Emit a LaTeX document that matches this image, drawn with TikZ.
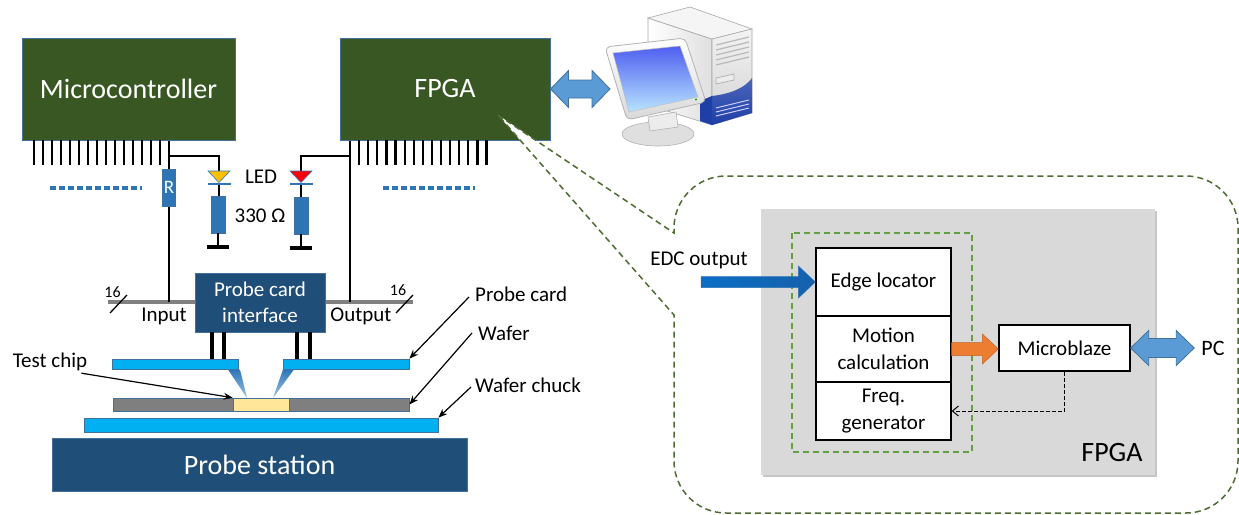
\documentclass[tikz,border=0pt]{standalone}
\usepackage{fontspec}
\setmainfont{Carlito}
\usetikzlibrary{calc,arrows.meta}

\definecolor{chipgreen}{HTML}{385723}
\definecolor{edgeblue}{HTML}{41719C}
\definecolor{resblue}{HTML}{2E75B6}
\definecolor{ledyellow}{HTML}{FFC000}
\definecolor{ledred}{HTML}{FF0000}
\definecolor{navy}{HTML}{1F4E79}
\definecolor{cyanbar}{HTML}{00B0F0}
\definecolor{wafergray}{HTML}{7F7F7F}
\definecolor{chipyellow}{HTML}{FFE699}
\definecolor{arrowblue}{HTML}{5B9BD5}
\definecolor{calloutgreen}{HTML}{4E6B31}
\definecolor{innergreen}{HTML}{62A043}
\definecolor{panelgray}{HTML}{D9D9D9}
\definecolor{orangearrow}{HTML}{ED7D31}
\definecolor{busgray}{HTML}{808080}
\definecolor{edcleft}{HTML}{0B6EC4}
\definecolor{edcright}{HTML}{1660AC}
\definecolor{screentop}{HTML}{4F5FF0}
\definecolor{screenbot}{HTML}{B8E4FF}
\definecolor{towerblue}{HTML}{1E3FA8}

% block arrow pointing right, from #1 to #2 (shaft half, head half, head length, style)
\newcommand\fatarrow[6]{%
  \path[#6] let \p1=#1, \p2=#2 in
    (\x1,{\y1+#3}) -- ({\x2-#5},{\y1+#3}) -- ({\x2-#5},{\y1+#4}) -- (\x2,\y1)
    -- ({\x2-#5},{\y1-#4}) -- ({\x2-#5},{\y1-#3}) -- (\x1,{\y1-#3}) -- cycle;}
% block arrow with heads at both ends
\newcommand\dblarrow[6]{%
  \path[#6] let \p1=#1, \p2=#2 in
    (\x1,\y1) -- ({\x1+#5},{\y1+#4}) -- ({\x1+#5},{\y1+#3}) -- ({\x2-#5},{\y1+#3})
    -- ({\x2-#5},{\y1+#4}) -- (\x2,\y1) -- ({\x2-#5},{\y1-#4}) -- ({\x2-#5},{\y1-#3})
    -- ({\x1+#5},{\y1-#3}) -- ({\x1+#5},{\y1-#4}) -- cycle;}

\begin{document}
\begin{tikzpicture}[x=1pt,y=-1pt,
  chipbox/.style={draw=edgeblue,line width=1pt,fill=chipgreen,text=white,inner sep=0pt,
    font=\fontsize{28}{32}\selectfont},
  pinline/.style={line width=2.2pt,black},
  wire/.style={line width=1.8pt,black},
  resistor/.style={draw=edgeblue,line width=0.8pt,fill=resblue,inner sep=0pt,
    minimum width=14pt,minimum height=37pt},
  ledbar/.style={line width=2pt,resblue},
  gndbar/.style={line width=4.5pt,black},
  dotline/.style={line width=4pt,resblue,dash pattern=on 6pt off 3pt},
  busline/.style={line width=4pt,busgray},
  navybox/.style={draw=edgeblue,line width=1pt,fill=navy,text=white,inner sep=0pt,align=center},
  bar/.style={draw=edgeblue,line width=0.8pt,fill=cyanbar,inner sep=0pt},
  probepin/.style={line width=4pt,black},
  txt/.style={font=\fontsize{21}{26}\selectfont,inner sep=0pt,align=center},
  small/.style={font=\fontsize{16}{18}\selectfont,inner sep=0pt},
  labarrow/.style={line width=1.2pt,-{Stealth[length=9pt,width=7pt]}},
  blockbox/.style={draw=black,line width=1.3pt,fill=white,inner sep=0pt,align=center,
    font=\fontsize{21}{27}\selectfont,minimum width=135pt},
  bluearrow/.style={fill=arrowblue,draw=edgeblue,line width=0.8pt},
]
\useasboundingbox (0,0) rectangle (1239,514);

% ---------------- controllers ----------------
\node[chipbox,minimum width=213pt,minimum height=102pt] (mcu) at (128.5,89) {Microcontroller};
\node[chipbox,minimum width=210pt,minimum height=102pt] (fpga) at (445,89) {FPGA};

% pin rows
\foreach \i in {0,...,14} \draw[pinline] (34+9*\i,140) -- ++(0,25);
\foreach \i in {1,...,15} \draw[pinline] (350+9.1*\i,140) -- ++(0,25);

% continuation dots
\draw[dotline] (50,188) -- (142,188);
\draw[dotline] (383,188) -- (475,188);

% bus and taps
\coordinate (busL) at (108,302);
\coordinate (busR) at (413,302);
\coordinate (inTap) at (169,302);
\coordinate (outTap) at (350,302);
\draw[busline] (busL) -- (busR);
\draw[wire] (mcu.south -| inTap) -- (inTap);
\draw[wire] (fpga.south -| outTap) -- (outTap);

% pull resistor
\node[resistor,minimum width=13pt,text=white,font=\fontsize{19}{20}\selectfont] (rIn) at (169,187.5) {R};

% LED branches
\coordinate (ledA) at (219,171);
\coordinate (ledB) at (301,171);
\coordinate (brA) at (169,156);
\coordinate (brB) at (350,156);
\draw[wire] (brA) -| (ledA);
\draw[wire] (brB) -| (ledB);
\fill[ledyellow] (208,171) -- (230,171) -- (219,182.5) -- cycle;
\draw[resblue,line width=0.6pt] (208,171) -- (230,171) -- (219,182.5) -- cycle;
\fill[ledred] (290,171) -- (312,171) -- (301,182.5) -- cycle;
\draw[resblue,line width=0.6pt] (290,171) -- (312,171) -- (301,182.5) -- cycle;
\draw[ledbar] (207.5,184) -- (230.5,184);
\draw[ledbar] (289.5,184) -- (312.5,184);
\node[resistor] (rA) at (218,214.5) {};
\node[resistor] (rB) at (301,215.5) {};
\coordinate (gA) at (218,247);
\coordinate (gB) at (301,248);
\draw[wire] (219,185) -- (rA.north -| 219,0);
\draw[wire] (301,185) -- (rB.north);
\draw[wire] (rA.south) -- (gA);
\draw[wire] (rB.south) -- (gB);
\draw[gndbar] ($(gA)+(-11,0)$) -- ($(gA)+(11,0)$);
\draw[gndbar] ($(gB)+(-11,0)$) -- ($(gB)+(11,0)$);
\node[txt] (ledlbl) at (261,177) {LED};
\node[txt] (ohm) at (260,216) {330 \symbol{"03A9}};

% probe card interface
\node[navybox,minimum width=130pt,minimum height=59pt,font=\fontsize{21}{26}\selectfont] (pci) at (260,302.5) {Probe card\\interface};
\node[txt] (inlbl) at (164,316) {Input};
\node[txt] (outlbl) at (361,316) {Output};
\node[small] (n16a) at (112.5,292) {16};
\node[small] (n16b) at (398,290) {16};
\draw[line width=1.3pt] (110,313) -- (127,295);
\draw[line width=1.3pt] (396,313) -- (413,295);

% probe needles
\foreach \px in {212,224,297,310} \draw[probepin] (\px,332) -- (\px,359);

% probe card bars and tips
\node[bar,minimum width=126pt,minimum height=10pt] (pcL) at (175,364) {};
\node[bar,minimum width=126pt,minimum height=10pt] (pcR) at (346,364) {};
\shade[top color=resblue,bottom color=arrowblue!60] (228,369.5) -- (240,369.5) -- (247,398) -- cycle;
\shade[top color=resblue,bottom color=arrowblue!60] (283,369.5) -- (294,369.5) -- (273,398) -- cycle;

% wafer, chip, chuck, station
\node[draw=edgeblue,line width=0.8pt,fill=wafergray,minimum width=296pt,minimum height=13pt,inner sep=0pt] (wafer) at (261,404.5) {};
\node[draw=edgeblue,line width=0.6pt,fill=chipyellow,minimum width=56pt,minimum height=13pt,inner sep=0pt] (tchip) at (261,404.5) {};
\node[bar,minimum width=354pt,minimum height=14pt] (chuck) at (261,425) {};
\node[navybox,minimum width=415pt,minimum height=53pt,font=\fontsize{28}{32}\selectfont] (station) at (259.5,464.5) {Probe station};

% side labels
\node[txt,anchor=west] (lblPC) at (475,294) {Probe card};
\node[txt,anchor=west] (lblW) at (478,333) {Wafer};
\node[txt,anchor=west] (lblWC) at (475,385) {Wafer chuck};
\node[txt] (lblTC) at (50,362) {Test chip};
\draw[labarrow] ($(lblPC.west)+(-6,3)$) -- (pcR.north east);
\draw[labarrow] ($(lblW.west)+(-6,0)$) -- (wafer.east);
\draw[labarrow] ($(lblWC.west)+(-4,2)$) -- (chuck.north east);
\draw[labarrow] ($(lblTC.south east)+(-6,2)$) -- (tchip.north west);

% ---------------- zoom callout ----------------
\path[fill=white,draw=calloutgreen,line width=1.5pt,dash pattern=on 6pt off 4pt]
  (498,115) -- (674,233) -- (674,228)
  .. controls (674,199.3) and (697.3,176) .. (726,176) -- (1186,176)
  .. controls (1214.7,176) and (1238,199.3) .. (1238,228) -- (1238,461)
  .. controls (1238,489.7) and (1214.7,513) .. (1186,513) -- (726,513)
  .. controls (697.3,513) and (674,489.7) .. (674,461) -- (674,315) -- cycle;

% ---------------- host computer ----------------
\coordinate (pcIn) at (610,89);
\dblarrow{(fpga.east)}{(pcIn)}{9pt}{18.5pt}{18pt}{bluearrow}
% tower
\shade[left color=white,right color=gray!25,draw=gray!70,line width=0.6pt]
  (648,18) -- (712,39) -- (712,125) -- (648,105) -- cycle;
\fill[gray!8,draw=gray!70,line width=0.6pt] (648,18) -- (690,7) -- (752,29) -- (712,39) -- cycle;
\shade[top color=gray!10,bottom color=gray!35,draw=gray!70,line width=0.6pt]
  (712,39) -- (752,29) -- (752,113) -- (712,125) -- cycle;
\shade[top color=towerblue!80,bottom color=towerblue,draw=none]
  (712,96) .. controls (730,94) and (745,88) .. (752,78) -- (752,113) -- (712,125) -- cycle;
\fill[towerblue] (700,101) -- (712,96) -- (712,125) -- (700,121) -- cycle;
\foreach \k in {0,...,4} \draw[gray!55,line width=1.2pt] (716,{45+5*\k}) -- (749,{37+5*\k});
\draw[gray!60,line width=0.8pt,fill=gray!15] (716,78) -- (734,74) -- (734,80) -- (716,84) -- cycle;
\foreach \k in {0,...,2} \draw[white!80!blue,line width=1pt] (716,{108+4*\k}) -- (749,{100+4*\k});
% monitor
\fill[gray!25,draw=gray!60,line width=0.6pt] (658,134) ellipse [x radius=36,y radius=12];
\fill[gray!15,draw=gray!60,line width=0.6pt] (648,117) -- (676,112) -- (678,127) -- (650,131) -- cycle;
\shade[top color=white,bottom color=gray!30,draw=gray!60,line width=0.8pt,rounded corners=5pt]
  (605,47) -- (685,38) -- (706,102) -- (627,120) -- cycle;
\shade[top color=screentop,bottom color=screenbot,draw=gray!50,line width=0.5pt]
  (613,53) -- (680,46) -- (698,97) -- (629,112) -- cycle;
\fill[green!70!black] (696,99.5) circle (1.2);

% ---------------- FPGA internals ----------------
\fill[gray!45] (763,211) rectangle (1157,477);
\node[fill=panelgray,minimum width=394pt,minimum height=266pt,inner sep=0pt] (panel) at (958,342) {};
\node[font=\fontsize{28}{32}\selectfont,inner sep=0pt] (fpgalbl) at (1112,453) {FPGA};
\draw[innergreen,line width=1.2pt,dash pattern=on 6pt off 4pt] (792,233) rectangle (972,452);

\node[blockbox,minimum height=68pt] (edge) at (883.5,282) {Edge locator};
\node[blockbox,minimum height=66pt] (motion) at (883.5,349) {Motion\\calculation};
\node[blockbox,minimum height=58pt] (freq) at (883.5,411) {Freq.\\generator};
\node[blockbox,minimum width=131pt,minimum height=46pt] (mblaze) at (1064.5,348) {Microblaze};

\node[txt] (edclbl) at (699,260) {EDC output};
\node[font=\fontsize{22}{26}\selectfont,inner sep=0pt] (pclbl) at (1213,348) {PC};

\coordinate (edcIn) at (701,282);
\fatarrow{(edcIn)}{(edge.west)}{5.5pt}{16pt}{17pt}{left color=edcleft,right color=edcright,draw=resblue,line width=0.5pt}
\fatarrow{(motion.east)}{(mblaze.west)}{6.5pt}{15pt}{16pt}{fill=orangearrow,draw=orangearrow!80!black,line width=0.5pt}
\dblarrow{(mblaze.east)}{([xshift=-7pt]pclbl.west)}{9.5pt}{17.5pt}{18pt}{bluearrow}
\draw[line width=1pt,dash pattern=on 4pt off 2pt,-{Straight Barb[length=6pt,width=10pt]}] (mblaze.south) |- (freq.east);

\end{tikzpicture}
\end{document}
